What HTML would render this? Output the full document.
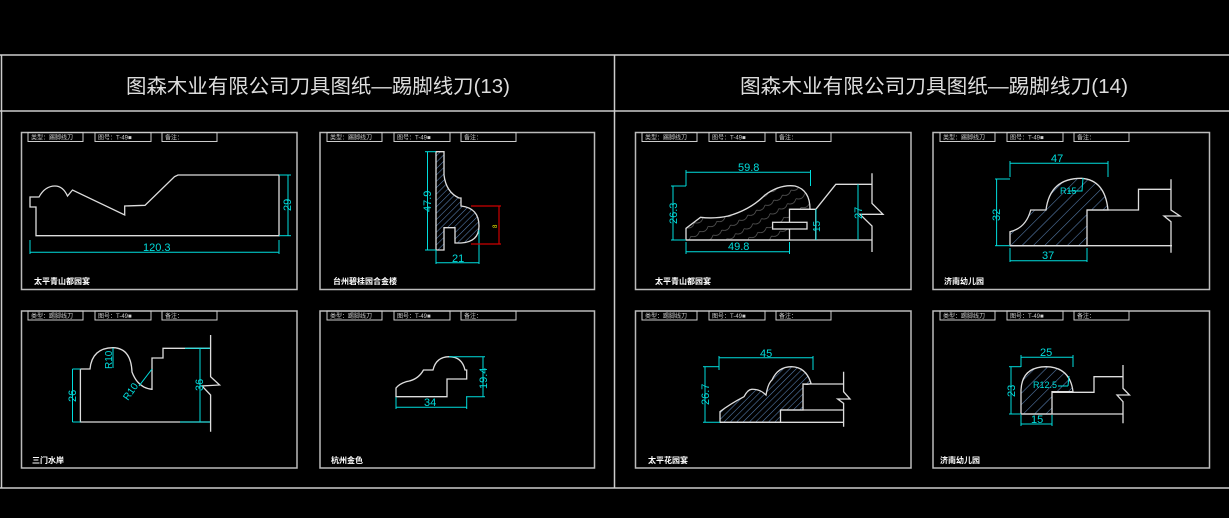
<!DOCTYPE html>
<html><head><meta charset="utf-8"><style>
html,body{margin:0;padding:0;background:#000;}
svg{display:block;}
.t{font-family:"Liberation Sans","Noto Sans CJK SC",sans-serif;}
</style></head><body>
<svg width="1229" height="518" viewBox="0 0 1229 518" xmlns="http://www.w3.org/2000/svg">
<defs>
<pattern id="h" width="4.5" height="4.5" patternUnits="userSpaceOnUse" patternTransform="rotate(45)">
<line x1="0" y1="0" x2="0" y2="4.5" stroke="#5a82b4" stroke-width="1.1"/></pattern>
<pattern id="h2" width="8" height="8" patternUnits="userSpaceOnUse" patternTransform="rotate(45)">
<line x1="0" y1="0" x2="0" y2="8" stroke="#5a82b4" stroke-width="1.1"/></pattern>
<pattern id="w" width="10" height="10" patternUnits="userSpaceOnUse" patternTransform="rotate(60)">
<path d="M0 0 Q5 5 0 10" fill="none" stroke="#777" stroke-width="0.6"/></pattern>
<g id="hdr">
<rect x="7" y="0" width="55" height="9" fill="none" stroke="#ccc" stroke-width="1"/>
<rect x="74" y="0" width="56" height="9" fill="none" stroke="#ccc" stroke-width="1"/>
<rect x="141" y="0" width="55" height="9" fill="none" stroke="#ccc" stroke-width="1"/>
<text x="10" y="7" font-size="6" fill="#ccc" class="t">类型：踢脚线刀</text>
<text x="77" y="7" font-size="6" fill="#ccc" class="t">图号：T-49■</text>
<text x="144" y="7" font-size="6" fill="#ccc" class="t">备注：</text>
</g>
</defs>
<g fill="none" stroke="#ccc" stroke-width="1.5">
<line x1="0" y1="55" x2="1229" y2="55"/>
<line x1="0" y1="111" x2="1229" y2="111"/>
<line x1="0" y1="488" x2="1229" y2="488"/>
<line x1="1.5" y1="55" x2="1.5" y2="488"/>
<line x1="614.5" y1="55" x2="614.5" y2="488"/>
</g>
<text x="126" y="93" font-size="20" fill="#ddd" class="t" textLength="384" lengthAdjust="spacingAndGlyphs">图森木业有限公司刀具图纸—踢脚线刀(13)</text>
<text x="740" y="93" font-size="20" fill="#ddd" class="t" textLength="388" lengthAdjust="spacingAndGlyphs">图森木业有限公司刀具图纸—踢脚线刀(14)</text>

<!-- panels -->
<g fill="none" stroke="#bbb" stroke-width="1.5">
<rect x="21.5" y="132.5" width="275.5" height="157"/>
<rect x="320" y="132.5" width="274.5" height="157"/>
<rect x="21.5" y="311" width="275.5" height="157"/>
<rect x="320" y="311" width="274.5" height="157"/>
<rect x="635.5" y="132.5" width="275.5" height="157"/>
<rect x="933" y="132.5" width="276.5" height="157"/>
<rect x="635.5" y="311" width="275.5" height="157"/>
<rect x="933" y="311" width="276.5" height="157"/>
</g>
<use href="#hdr" x="21" y="132.5"/>
<use href="#hdr" x="320" y="132.5"/>
<use href="#hdr" x="21" y="311"/>
<use href="#hdr" x="320" y="311"/>
<use href="#hdr" x="635" y="132.5"/>
<use href="#hdr" x="933" y="132.5"/>
<use href="#hdr" x="635" y="311"/>
<use href="#hdr" x="933" y="311"/>

<g class="t" fill="#fff" font-size="8" font-weight="bold">
<text x="34" y="284">太平青山都园宴</text>
<text x="333" y="284">台州碧桂园合金楼</text>
<text x="32" y="463">三门水岸</text>
<text x="331" y="463">杭州金色</text>
<text x="655" y="284">太平青山都园宴</text>
<text x="944" y="284">济南幼儿园</text>
<text x="648" y="463">太平花园宴</text>
<text x="940" y="463">济南幼儿园</text>
</g>

<!-- Panel 1 -->
<path d="M36 235.7 V207 H30 V197 H39 Q45 186 55 186 Q63 186 67.5 196 L72.5 190 L124.7 215 V206 L145 205.3 L174.5 176.7 L178 175 L180.4 175 H279 V235.7 Z" fill="none" stroke="#ddd" stroke-width="1.3"/>
<g stroke="#0dd" stroke-width="1" fill="none">
<line x1="279" y1="175" x2="291" y2="175"/><line x1="279" y1="235.7" x2="291" y2="235.7"/>
<line x1="288" y1="175" x2="288" y2="235.7"/>
<line x1="30" y1="240" x2="30" y2="254"/><line x1="279" y1="240" x2="279" y2="254"/>
<line x1="30" y1="252.3" x2="279" y2="252.3"/>
</g>
<text x="143" y="251" font-size="11" fill="#0dd" class="t">120.3</text>
<text x="0" y="0" font-size="11" fill="#0dd" class="t" transform="translate(291,211) rotate(-90)">29</text>

<!-- Panel 2 -->
<path d="M436 151.7 H444 V175 Q446 192 459 198 H461 V206 Q479 208 479 226 Q479 242 461 243 H455 V227.7 H444 V250 H436 Z" fill="url(#h)" stroke="#ddd" stroke-width="1.3"/>
<g stroke="#0dd" stroke-width="1" fill="none">
<line x1="425" y1="151.7" x2="436" y2="151.7"/><line x1="425" y1="250" x2="436" y2="250"/>
<line x1="427.5" y1="151.7" x2="427.5" y2="250"/>
<line x1="436" y1="250" x2="436" y2="264"/><line x1="479" y1="230" x2="479" y2="264"/>
<line x1="436" y1="262.7" x2="479" y2="262.7"/>
</g>
<g stroke="#c00" stroke-width="1.2" fill="none">
<line x1="471" y1="206" x2="501" y2="206"/><line x1="471" y1="244" x2="501" y2="244"/>
<line x1="499" y1="206" x2="499" y2="244"/>
</g>
<text x="0" y="0" font-size="6" fill="#ee0" class="t" transform="translate(497,228) rotate(-90)">8</text>
<text x="0" y="0" font-size="11" fill="#0dd" class="t" transform="translate(431,212) rotate(-90)">47.9</text>
<text x="452" y="262" font-size="11" fill="#0dd" class="t">21</text>

<!-- Panel 3 -->
<path d="M80.4 369 V422 H210.6 M80.4 369 H90 Q92 348 113 347.7 Q131 348 132 372 Q138 388 152 389.3 V358 H163 V348.3 H210.6" fill="none" stroke="#ddd" stroke-width="1.3"/>
<path d="M210.6 335 V376.7 L219.6 385 L202 386 L210.6 395 V431.7" fill="none" stroke="#ddd" stroke-width="1.3"/>
<g stroke="#0dd" stroke-width="1" fill="none">
<line x1="72.5" y1="369" x2="80.4" y2="369"/><line x1="72.5" y1="422" x2="80.4" y2="422"/>
<line x1="72.5" y1="369" x2="72.5" y2="422"/>
<line x1="200" y1="348.3" x2="200" y2="422"/>
<line x1="185" y1="348.3" x2="210" y2="348.3"/><line x1="180" y1="422" x2="210" y2="422"/>
<line x1="113" y1="348" x2="113" y2="368"/>
<line x1="139" y1="386" x2="152" y2="369"/>
</g>
<text x="0" y="0" font-size="10" fill="#0dd" class="t" transform="translate(112,369) rotate(-90)">R10</text>
<text x="0" y="0" font-size="10" fill="#0dd" class="t" transform="translate(128,401) rotate(-55)">R10</text>
<text x="0" y="0" font-size="11" fill="#0dd" class="t" transform="translate(76,402) rotate(-90)">26</text>
<text x="0" y="0" font-size="11" fill="#0dd" class="t" transform="translate(203,391) rotate(-90)">36</text>

<!-- Panel 4 -->
<path d="M396 396.7 H447 V379 H466.7 V370 H465 Q462 356.7 449 356.7 Q436 357 433 370 H423.5 Q418 380 406 381.7 Q399 384 396 388 Z" fill="none" stroke="#ddd" stroke-width="1.3"/>
<g stroke="#0dd" stroke-width="1" fill="none">
<line x1="449" y1="356.7" x2="485" y2="356.7"/><line x1="466" y1="396.7" x2="485" y2="396.7"/>
<line x1="483" y1="356.7" x2="483" y2="396.7"/>
<line x1="396" y1="397" x2="396" y2="409"/><line x1="466.7" y1="397" x2="466.7" y2="409"/>
<line x1="396" y1="407.3" x2="466.7" y2="407.3"/>
</g>
<text x="424" y="406" font-size="11" fill="#0dd" class="t">34</text>
<text x="0" y="0" font-size="11" fill="#0dd" class="t" transform="translate(487,389) rotate(-90)">19.4</text>

<!-- Panel 5 -->
<path d="M686 240 V228.3 L700.5 217.3 Q715 219 728 216 Q750 210 765 195 Q780 184 795 186 Q810 190 810 209.3 H789.5 V240 Z" fill="url(#w)" stroke="#ddd" stroke-width="1.3"/>
<path d="M686 240 H872 M789.5 209.3 H815.8 V240 M815.8 209.3 L835.8 184.3 H872 M872 173.3 V203.3 L883 214.3 L860 214.3 L872 226 V252" fill="none" stroke="#ddd" stroke-width="1.3"/>
<rect x="772.6" y="222.3" width="34.4" height="6.7" fill="#000" stroke="#ddd" stroke-width="1.3"/>
<g stroke="#0dd" stroke-width="1" fill="none">
<line x1="686" y1="170" x2="686" y2="186"/><line x1="810.5" y1="170" x2="810.5" y2="186"/>
<line x1="686" y1="172.3" x2="810.5" y2="172.3"/>
<line x1="673" y1="186" x2="673" y2="240"/>
<line x1="671" y1="186" x2="686" y2="186"/><line x1="671" y1="240" x2="686" y2="240"/>
<line x1="686" y1="242" x2="686" y2="254"/><line x1="789.5" y1="242" x2="789.5" y2="254"/>
<line x1="686" y1="251.7" x2="789.5" y2="251.7"/>
<line x1="858" y1="184.3" x2="858" y2="240"/>
<line x1="816" y1="209.3" x2="816" y2="240"/>
</g>
<text x="738" y="171" font-size="11" fill="#0dd" class="t">59.8</text>
<text x="728" y="250" font-size="11" fill="#0dd" class="t">49.8</text>
<text x="0" y="0" font-size="11" fill="#0dd" class="t" transform="translate(677,224) rotate(-90)">26.3</text>
<text x="0" y="0" font-size="11" fill="#0dd" class="t" transform="translate(862,219) rotate(-90)">27</text>
<text x="0" y="0" font-size="10" fill="#0dd" class="t" transform="translate(820,232) rotate(-90)">15</text>

<!-- Panel 6 -->
<path d="M1010 245.7 V231.7 Q1026 228 1030.7 210 H1046 Q1050 178 1081.7 178.3 Q1105 180 1108 210 H1087 V245.7 Z" fill="url(#h2)" stroke="#ddd" stroke-width="1.3"/>
<path d="M1010 245.7 H1172 M1087 210 H1138.5 V189.3 H1171 M1171 179.3 V210 L1180 216 L1164 216 L1171 221.7 V252.7" fill="none" stroke="#ddd" stroke-width="1.3"/>
<g stroke="#0dd" stroke-width="1" fill="none">
<line x1="1010" y1="161" x2="1010" y2="177"/><line x1="1108" y1="161" x2="1108" y2="177"/>
<line x1="1010" y1="163.3" x2="1108" y2="163.3"/>
<line x1="996.6" y1="179" x2="996.6" y2="245.7"/>
<line x1="995" y1="179" x2="1010" y2="179"/><line x1="995" y1="245.7" x2="1010" y2="245.7"/>
<line x1="1010" y1="248" x2="1010" y2="262"/><line x1="1087" y1="248" x2="1087" y2="262"/>
<line x1="1010" y1="260.7" x2="1087" y2="260.7"/>
<polyline points="1068,191 1082,191 1083,178"/>
</g>
<text x="1051" y="162" font-size="11" fill="#0dd" class="t">47</text>
<text x="1042" y="259" font-size="11" fill="#0dd" class="t">37</text>
<text x="1060" y="194" font-size="9" fill="#0dd" class="t">R15</text>
<text x="0" y="0" font-size="11" fill="#0dd" class="t" transform="translate(1000,221) rotate(-90)">32</text>

<!-- Panel 7 -->
<path d="M720 422.3 V411.7 Q730 404 744 396.7 Q748 389 752 389.3 Q760 389 766 395 Q768 383.3 772 380 Q778 366.7 791.5 366.7 Q806 367 811 383.3 Q809 385 803 384 V410 H780.5 V422.3 Z" fill="url(#h)" stroke="#ddd" stroke-width="1.3"/>
<path d="M720 422.3 H843.6 M803 384 H843.6 M780.5 410 H843.6 M843.6 371.7 V391.7 L850 399 L837.7 399 L843.6 403.3 V426.7" fill="none" stroke="#ddd" stroke-width="1.3"/>
<g stroke="#0dd" stroke-width="1" fill="none">
<line x1="719" y1="356" x2="719" y2="370"/><line x1="813" y1="356" x2="813" y2="370"/>
<line x1="719" y1="357.7" x2="813" y2="357.7"/>
<line x1="705" y1="366.7" x2="705" y2="422.3"/>
<line x1="703" y1="366.7" x2="719" y2="366.7"/><line x1="703" y1="422.3" x2="720" y2="422.3"/>
</g>
<text x="760" y="357" font-size="11" fill="#0dd" class="t">45</text>
<text x="0" y="0" font-size="11" fill="#0dd" class="t" transform="translate(709,405) rotate(-90)">26.7</text>

<!-- Panel 8 -->
<path d="M1021 414 V390 Q1022 367 1046 366.7 Q1070 367 1073 391.7 H1052 V414 Z" fill="url(#h2)" stroke="#ddd" stroke-width="1.3"/>
<path d="M1021 414 H1123 M1052 392.3 H1094 V376.7 H1123 M1123 365 V388.3 L1129.5 395 L1117 395 L1123 401.7 V423.3" fill="none" stroke="#ddd" stroke-width="1.3"/>
<g stroke="#0dd" stroke-width="1" fill="none">
<line x1="1021" y1="355" x2="1021" y2="367"/><line x1="1073" y1="355" x2="1073" y2="367"/>
<line x1="1021" y1="357.3" x2="1073" y2="357.3"/>
<line x1="1011" y1="366.7" x2="1011" y2="414"/>
<line x1="1009" y1="366.7" x2="1021" y2="366.7"/><line x1="1009" y1="414" x2="1021" y2="414"/>
<line x1="1021" y1="415" x2="1021" y2="426"/><line x1="1052" y1="415" x2="1052" y2="426"/>
<line x1="1021" y1="424" x2="1052" y2="424"/>
<line x1="1058" y1="386" x2="1068" y2="386"/><line x1="1068" y1="386" x2="1069" y2="376"/>
</g>
<text x="1040" y="356" font-size="11" fill="#0dd" class="t">25</text>
<text x="1031" y="423" font-size="11" fill="#0dd" class="t">15</text>
<text x="1033" y="388" font-size="9" fill="#0dd" class="t">R12.5</text>
<text x="0" y="0" font-size="11" fill="#0dd" class="t" transform="translate(1015,397) rotate(-90)">23</text>
</svg>
</body></html>
